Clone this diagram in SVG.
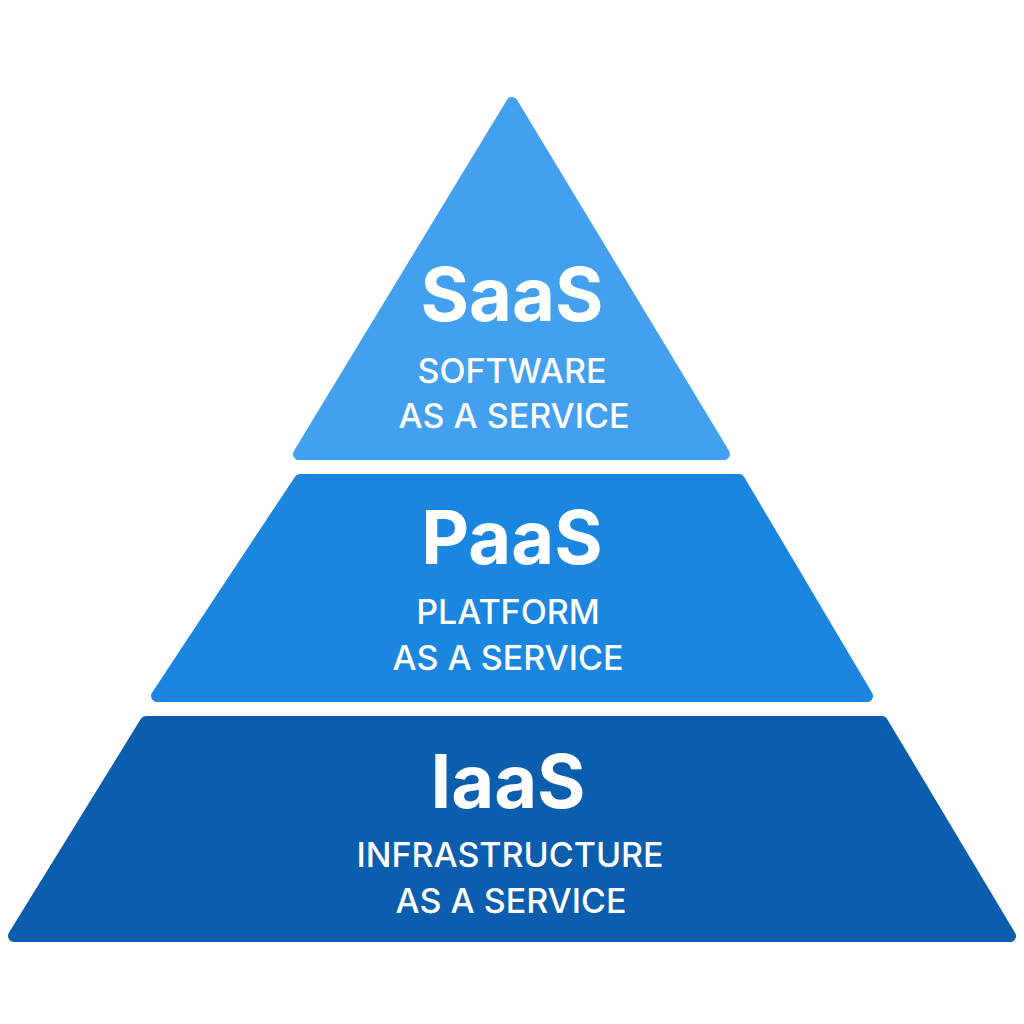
<svg xmlns="http://www.w3.org/2000/svg" width="1024" height="1024" viewBox="0 0 1024 1024">
<style>
.t{font-family:Inter,"Noto Sans",sans-serif;fill:#fff;text-anchor:middle}
.h{font-size:74px;font-weight:700}
.s{font-size:34px;font-weight:500}
.p{stroke-linejoin:round;stroke-width:12}
</style>
<rect width="1024" height="1024" fill="#fff"/>
<g id="saas">
<polygon class="p" points="512,103 299,454 724,454" fill="#43A0EF" stroke="#43A0EF"/>
<text class="t h" x="512" y="321">SaaS</text>
<text class="t s" x="512" y="383">SOFTWARE</text>
<text class="t s" x="514" y="428">AS A SERVICE</text>
</g>
<g id="paas">
<polygon class="p" points="300,480 739,480 867,696 157,696" fill="#1B86E0" stroke="#1B86E0"/>
<text class="t h" x="512" y="564">PaaS</text>
<text class="t s" x="508" y="624">PLATFORM</text>
<text class="t s" x="508" y="670">AS A SERVICE</text>
</g>
<g id="iaas">
<polygon class="p" points="146,722 882,722 1010,936 14,936" fill="#0B5DAD" stroke="#0B5DAD"/>
<text class="t h" x="508" y="808">IaaS</text>
<text class="t s" x="510" y="867">INFRASTRUCTURE</text>
<text class="t s" x="511" y="913">AS A SERVICE</text>
</g>
<g id="connectors"/>
</svg>
